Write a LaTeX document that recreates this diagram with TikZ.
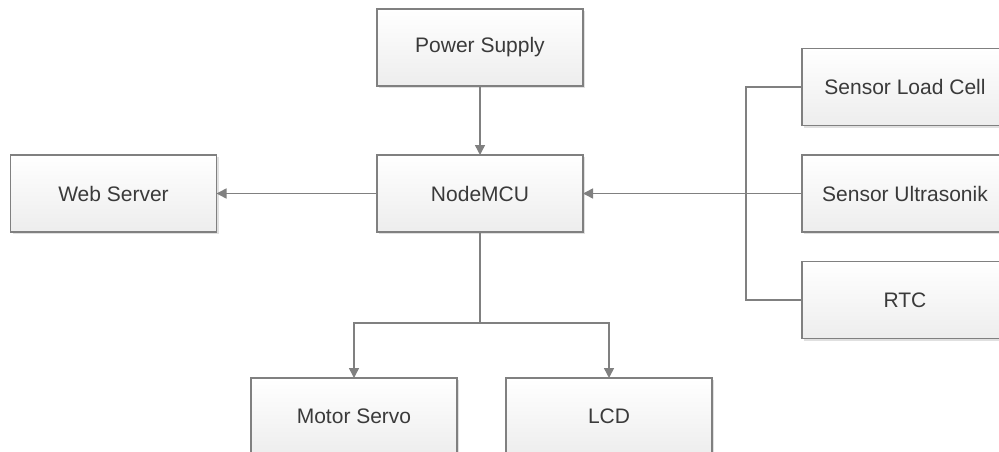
\documentclass[tikz,border=0pt]{standalone}
\usepackage{fontspec}
\setmainfont{Liberation Sans}
\usetikzlibrary{arrows.meta,shadows}
\definecolor{edgegray}{HTML}{808080}
\definecolor{txtgray}{HTML}{3A3A3A}
\tikzset{
  blockbox/.style={draw=edgegray, line width=1.5pt, top color=white, bottom color=black!7,
    minimum width=206pt, minimum height=77pt, inner sep=0pt, outer sep=0pt,
    font=\fontsize{21}{24}\selectfont, text=txtgray,
    drop shadow={shadow xshift=2pt, shadow yshift=-2pt, opacity=0.12, fill=black}},
  link/.style={draw=edgegray, line width=1.5pt},
  arr/.style={link, -{Triangle[length=10pt,width=10pt]}}
}
\begin{document}
\begin{tikzpicture}[x=1pt,y=-1pt]
\useasboundingbox (0,0) rectangle (999,452);
\clip (0,0) rectangle (999,452);
\node[blockbox] (ps) at (480,47.5) {Power Supply};
\node[blockbox] (mcu) at (480,193.5) {NodeMCU};
\node[blockbox] (web) at (113.5,193.5) {Web Server};
\node[blockbox] (load) at (905,87) {Sensor Load Cell};
\node[blockbox] (ultra) at (905,193.5) {Sensor Ultrasonik};
\node[blockbox] (rtc) at (905,300) {RTC};
\node[blockbox] (servo) at (354,416.5) {Motor Servo};
\node[blockbox] (lcd) at (609,416.5) {LCD};
\coordinate (bus) at (746,193.5);
\coordinate (split) at (480,323);
\draw[arr] (ps) -- (mcu);
\draw[arr] (mcu) -- (web);
\draw[link] (load.west) -| (bus);
\draw[link] (rtc.west) -| (bus);
\draw[arr] (ultra) -- (mcu);
\draw[link] (mcu) -- (split);
\draw[arr] (split) -| (servo);
\draw[arr] (split) -| (lcd);
\end{tikzpicture}
\end{document}
